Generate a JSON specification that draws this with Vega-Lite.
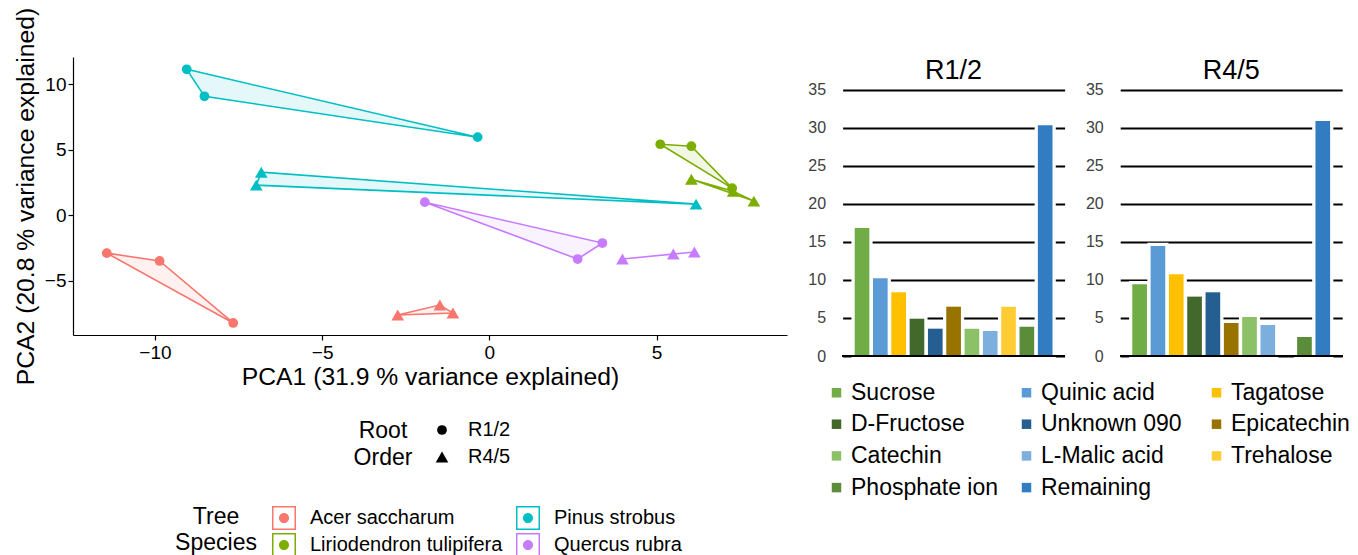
{
  "$schema": "https://vega.github.io/schema/vega-lite/v6.json",
  "padding": {"left": 13, "top": 7, "right": 0, "bottom": 0},
  "bounds": "flush",
  "spacing": 55.6,
  "config": {
    "view": {"stroke": null},
    "font": "Liberation Sans",
    "legend": {"labelLimit": 400, "titleLimit": 400}
  },
  "hconcat": [
    {
      "width": 714,
      "height": 278,
      "data": {"values": [
        {"species": "Acer saccharum", "order": "R1/2", "pc1": -11.44, "pc2": -2.90},
        {"species": "Acer saccharum", "order": "R1/2", "pc1": -9.86, "pc2": -3.50},
        {"species": "Acer saccharum", "order": "R1/2", "pc1": -7.66, "pc2": -8.23},
        {"species": "Acer saccharum", "order": "R4/5", "pc1": -2.74, "pc2": -7.62},
        {"species": "Acer saccharum", "order": "R4/5", "pc1": -1.48, "pc2": -6.86},
        {"species": "Acer saccharum", "order": "R4/5", "pc1": -1.09, "pc2": -7.47},
        {"species": "Liriodendron tulipifera", "order": "R1/2", "pc1": 5.11, "pc2": 5.41},
        {"species": "Liriodendron tulipifera", "order": "R1/2", "pc1": 6.04, "pc2": 5.26},
        {"species": "Liriodendron tulipifera", "order": "R1/2", "pc1": 7.26, "pc2": 2.06},
        {"species": "Liriodendron tulipifera", "order": "R4/5", "pc1": 6.04, "pc2": 2.74},
        {"species": "Liriodendron tulipifera", "order": "R4/5", "pc1": 7.29, "pc2": 1.83},
        {"species": "Liriodendron tulipifera", "order": "R4/5", "pc1": 7.91, "pc2": 1.07},
        {"species": "Pinus strobus", "order": "R1/2", "pc1": -9.05, "pc2": 11.13},
        {"species": "Pinus strobus", "order": "R1/2", "pc1": -8.52, "pc2": 9.07},
        {"species": "Pinus strobus", "order": "R1/2", "pc1": -0.35, "pc2": 5.95},
        {"species": "Pinus strobus", "order": "R4/5", "pc1": -6.82, "pc2": 3.28},
        {"species": "Pinus strobus", "order": "R4/5", "pc1": -6.97, "pc2": 2.29},
        {"species": "Pinus strobus", "order": "R4/5", "pc1": 6.18, "pc2": 0.84},
        {"species": "Quercus rubra", "order": "R1/2", "pc1": -1.93, "pc2": 0.99},
        {"species": "Quercus rubra", "order": "R1/2", "pc1": 3.38, "pc2": -2.13},
        {"species": "Quercus rubra", "order": "R1/2", "pc1": 2.64, "pc2": -3.35},
        {"species": "Quercus rubra", "order": "R4/5", "pc1": 3.98, "pc2": -3.35},
        {"species": "Quercus rubra", "order": "R4/5", "pc1": 5.50, "pc2": -2.97},
        {"species": "Quercus rubra", "order": "R4/5", "pc1": 6.13, "pc2": -2.82}
      ]},
      "layer": [
        {
          "mark": {"type": "line", "interpolate": "linear-closed", "strokeWidth": 1.6, "fillOpacity": 0.1},
          "encoding": {
            "x": {"field": "pc1", "type": "quantitative",
                  "scale": {"domain": [-12.45, 8.9], "nice": false, "zero": false},
                  "axis": {"values": [-10, -5, 0, 5], "title": "PCA1 (31.9 % variance explained)", "grid": false,
                           "domainColor": "black", "domainWidth": 1.2, "tickColor": "black", "tickWidth": 1.2, "tickSize": 5,
                           "labelFontSize": 19, "labelColor": "black", "labelPadding": 3, "labelFlush": false,
                           "titleFontSize": 24.7, "titleFontWeight": "normal", "titleColor": "black", "titlePadding": 2}},
            "y": {"field": "pc2", "type": "quantitative",
                  "scale": {"domain": [-9.15, 12.07], "nice": false, "zero": false},
                  "axis": {"values": [-5, 0, 5, 10], "title": "PCA2 (20.8 % variance explained)", "grid": false,
                           "domainColor": "black", "domainWidth": 1.2, "tickColor": "black", "tickWidth": 1.2, "tickSize": 5,
                           "labelFontSize": 19, "labelColor": "black", "labelPadding": 2, "labelFlush": false,
                           "titleFontSize": 24.7, "titleFontWeight": "normal", "titleColor": "black", "titlePadding": 6}},
            "detail": {"field": "order", "type": "nominal"},
            "stroke": {"field": "species", "type": "nominal",
                       "scale": {"domain": ["Acer saccharum", "Liriodendron tulipifera", "Pinus strobus", "Quercus rubra"],
                                 "range": ["#F8766D", "#7CAE00", "#00BFC4", "#C77CFF"]},
                       "legend": {"orient": "none", "legendX": 102, "legendY": 449,
                                "title": ["Tree", "Species"], "titleOrient": "left", "titleAlign": "center", "titleBaseline": "top", "titleAnchor": "start",
                                "titleFontSize": 23, "titleFontWeight": "normal", "titleColor": "black", "titleLineHeight": 26, "titlePadding": -26,
                                "columns": 2, "gridAlign": "all", "columnPadding": 13, "rowPadding": 3,
                                "symbolType": "M-1,-1H1V1H-1Z M-0.875,-0.875V0.875H0.875V-0.875Z M-0.42,0A0.42,0.42 0 1,0 0.42,0A0.42,0.42 0 1,0 -0.42,0Z",
                                "symbolSize": 576, "symbolStrokeWidth": 0, "symbolOpacity": 1, "symbolFillOpacity": 1,
                                "labelFontSize": 20, "labelColor": "black", "labelOffset": 14}},
            "fill": {"field": "species", "type": "nominal",
                     "scale": {"domain": ["Acer saccharum", "Liriodendron tulipifera", "Pinus strobus", "Quercus rubra"],
                               "range": ["#F8766D", "#7CAE00", "#00BFC4", "#C77CFF"]},
                     "legend": {"orient": "none", "legendX": 102, "legendY": 449,
                                "title": ["Tree", "Species"], "titleOrient": "left", "titleAlign": "center", "titleBaseline": "top", "titleAnchor": "start",
                                "titleFontSize": 23, "titleFontWeight": "normal", "titleColor": "black", "titleLineHeight": 26, "titlePadding": -26,
                                "columns": 2, "gridAlign": "all", "columnPadding": 13, "rowPadding": 3,
                                "symbolType": "M-1,-1H1V1H-1Z M-0.875,-0.875V0.875H0.875V-0.875Z M-0.42,0A0.42,0.42 0 1,0 0.42,0A0.42,0.42 0 1,0 -0.42,0Z",
                                "symbolSize": 576, "symbolStrokeWidth": 0, "symbolOpacity": 1, "symbolFillOpacity": 1,
                                "labelFontSize": 20, "labelColor": "black", "labelOffset": 14}}
          }
        },
        {
          "mark": {"type": "point", "filled": true, "opacity": 1, "color": "black", "strokeWidth": 0},
          "encoding": {
            "x": {"field": "pc1", "type": "quantitative"},
            "y": {"field": "pc2", "type": "quantitative"},
            "fill": {"field": "species", "type": "nominal",
                     "scale": {"domain": ["Acer saccharum", "Liriodendron tulipifera", "Pinus strobus", "Quercus rubra"],
                               "range": ["#F8766D", "#7CAE00", "#00BFC4", "#C77CFF"]},
                     "legend": {"orient": "none", "legendX": 102, "legendY": 449,
                                "title": ["Tree", "Species"], "titleOrient": "left", "titleAlign": "center", "titleBaseline": "top", "titleAnchor": "start",
                                "titleFontSize": 23, "titleFontWeight": "normal", "titleColor": "black", "titleLineHeight": 26, "titlePadding": -26,
                                "columns": 2, "gridAlign": "all", "columnPadding": 13, "rowPadding": 3,
                                "symbolType": "M-1,-1H1V1H-1Z M-0.875,-0.875V0.875H0.875V-0.875Z M-0.42,0A0.42,0.42 0 1,0 0.42,0A0.42,0.42 0 1,0 -0.42,0Z",
                                "symbolSize": 576, "symbolStrokeWidth": 0, "symbolOpacity": 1, "symbolFillOpacity": 1,
                                "labelFontSize": 20, "labelColor": "black", "labelOffset": 14}},
            "shape": {"field": "order", "type": "nominal",
                      "scale": {"domain": ["R1/2", "R4/5"], "range": ["circle", "triangle-up"]},
                      "legend": {"orient": "none", "legendX": 281, "legendY": 363,
                                 "title": ["Root", "Order"], "titleOrient": "left", "titleAlign": "center", "titleBaseline": "top", "titleAnchor": "start",
                                 "titleFontSize": 23, "titleFontWeight": "normal", "titleColor": "black", "titleLineHeight": 27, "titlePadding": -10,
                                 "symbolFillColor": "black", "symbolStrokeWidth": 0, "symbolOpacity": 1,
                                 "rowPadding": 7, "labelFontSize": 20, "labelColor": "black", "labelOffset": 16}},
            "size": {"field": "order", "type": "ordinal",
                     "scale": {"domain": ["R1/2", "R4/5"], "range": [95, 160]},
                     "legend": {"orient": "none", "legendX": 281, "legendY": 363,
                                 "title": ["Root", "Order"], "titleOrient": "left", "titleAlign": "center", "titleBaseline": "top", "titleAnchor": "start",
                                 "titleFontSize": 23, "titleFontWeight": "normal", "titleColor": "black", "titleLineHeight": 27, "titlePadding": -10,
                                 "symbolFillColor": "black", "symbolStrokeWidth": 0, "symbolOpacity": 1,
                                 "rowPadding": 7, "labelFontSize": 20, "labelColor": "black", "labelOffset": 16}}
          }
        }
      ]
    },
    {
      "width": 222,
      "height": 299,
      "data": {"values": [
        {"panel": "R1/2", "compound": "Sucrose", "value": 16.82},
        {"panel": "R1/2", "compound": "Quinic acid", "value": 10.2},
        {"panel": "R1/2", "compound": "Tagatose", "value": 8.37},
        {"panel": "R1/2", "compound": "D-Fructose", "value": 4.9},
        {"panel": "R1/2", "compound": "Unknown 090", "value": 3.59},
        {"panel": "R1/2", "compound": "Epicatechin", "value": 6.48},
        {"panel": "R1/2", "compound": "Catechin", "value": 3.59},
        {"panel": "R1/2", "compound": "L-Malic acid", "value": 3.29},
        {"panel": "R1/2", "compound": "Trehalose", "value": 6.48},
        {"panel": "R1/2", "compound": "Phosphate ion", "value": 3.85},
        {"panel": "R1/2", "compound": "Remaining", "value": 30.31}
      ]},
      "layer": [
        {
          "mark": {"type": "bar", "color": "white", "stroke": "white", "strokeWidth": 6.5},
          "encoding": {
            "x": {"field": "compound", "type": "nominal", "axis": null,
                  "scale": {"domain": ["Sucrose", "Quinic acid", "Tagatose", "D-Fructose", "Unknown 090", "Epicatechin", "Catechin", "L-Malic acid", "Trehalose", "Phosphate ion", "Remaining"], "paddingInner": 0.2, "paddingOuter": 0.66}},
            "y": {"field": "value", "type": "quantitative", "scale": {"domain": [0, 39.28], "nice": false},
                  "axis": {"values": [0, 5, 10, 15, 20, 25, 30, 35], "grid": true, "gridColor": "black", "gridWidth": 2, "domain": false, "ticks": false, "tickSize": 0,
                           "labelFontSize": 16, "labelColor": "#404040", "labelPadding": 17, "title": null}}
          }
        },
        {
          "mark": {"type": "bar"},
          "encoding": {
            "x": {"field": "compound", "type": "nominal", "axis": null},
            "y": {"field": "value", "type": "quantitative",
                  "axis": {"values": [0, 5, 10, 15, 20, 25, 30, 35], "grid": true, "gridColor": "black", "gridWidth": 2, "domain": false, "ticks": false, "tickSize": 0,
                           "labelFontSize": 16, "labelColor": "#404040", "labelPadding": 17, "title": null}},
            "color": {"field": "compound", "type": "nominal",
                      "scale": {"domain": ["Sucrose", "D-Fructose", "Catechin", "Phosphate ion", "Quinic acid", "Unknown 090", "L-Malic acid", "Remaining", "Tagatose", "Epicatechin", "Trehalose"],
                                "range": ["#70AD47", "#43682B", "#8CC168", "#5A8C39", "#5B9BD5", "#255E91", "#7CAFDD", "#327DC2", "#FFC000", "#997300", "#FFCD33"]},
                      "legend": {"orient": "none", "legendX": 752, "legendY": 324, "title": null, "columns": 3, "gridAlign": "all",
                                 "columnPadding": 16, "rowPadding": 7.7, "symbolType": "square", "symbolSize": 90, "symbolStrokeWidth": 0, "symbolOpacity": 1,
                                 "labelFontSize": 23, "labelColor": "black", "labelOffset": 3}}
          }
        },
        {
          "mark": {"type": "rule", "color": "black", "strokeWidth": 2},
          "encoding": {"y": {"datum": 0,
                  "axis": {"values": [0, 5, 10, 15, 20, 25, 30, 35], "grid": true, "gridColor": "black", "gridWidth": 2, "domain": false, "ticks": false, "tickSize": 0,
                           "labelFontSize": 16, "labelColor": "#404040", "labelPadding": 17, "title": null}}}
        },
        {
          "data": {"values": [{"panel": "R1/2"}]},
          "mark": {"type": "text", "fontSize": 27, "baseline": "alphabetic", "align": "center", "color": "black"},
          "encoding": {
            "text": {"field": "panel", "type": "nominal"},
            "x": {"datum": "Epicatechin", "type": "nominal", "axis": null},
            "y": {"datum": 36.36, "type": "quantitative",
                  "axis": {"values": [0, 5, 10, 15, 20, 25, 30, 35], "grid": true, "gridColor": "black", "gridWidth": 2, "domain": false, "ticks": false, "tickSize": 0,
                           "labelFontSize": 16, "labelColor": "#404040", "labelPadding": 17, "title": null}}
          }
        }
      ]
    },
    {
      "width": 222,
      "height": 299,
      "data": {"values": [
        {"panel": "R4/5", "compound": "Sucrose", "value": 9.42},
        {"panel": "R4/5", "compound": "Quinic acid", "value": 14.45},
        {"panel": "R4/5", "compound": "Tagatose", "value": 10.73},
        {"panel": "R4/5", "compound": "D-Fructose", "value": 7.8},
        {"panel": "R4/5", "compound": "Unknown 090", "value": 8.37},
        {"panel": "R4/5", "compound": "Epicatechin", "value": 4.34},
        {"panel": "R4/5", "compound": "Catechin", "value": 5.12},
        {"panel": "R4/5", "compound": "L-Malic acid", "value": 4.07},
        {"panel": "R4/5", "compound": "Phosphate ion", "value": 2.5},
        {"panel": "R4/5", "compound": "Remaining", "value": 30.88}
      ]},
      "layer": [
        {
          "mark": {"type": "bar", "color": "white", "stroke": "white", "strokeWidth": 6.5},
          "encoding": {
            "x": {"field": "compound", "type": "nominal", "axis": null,
                  "scale": {"domain": ["Sucrose", "Quinic acid", "Tagatose", "D-Fructose", "Unknown 090", "Epicatechin", "Catechin", "L-Malic acid", "Trehalose", "Phosphate ion", "Remaining"], "paddingInner": 0.2, "paddingOuter": 0.66}},
            "y": {"field": "value", "type": "quantitative", "scale": {"domain": [0, 39.28], "nice": false},
                  "axis": {"values": [0, 5, 10, 15, 20, 25, 30, 35], "grid": true, "gridColor": "black", "gridWidth": 2, "domain": false, "ticks": false, "tickSize": 0,
                           "labelFontSize": 16, "labelColor": "#404040", "labelPadding": 17, "title": null}}
          }
        },
        {
          "mark": {"type": "bar"},
          "encoding": {
            "x": {"field": "compound", "type": "nominal", "axis": null},
            "y": {"field": "value", "type": "quantitative",
                  "axis": {"values": [0, 5, 10, 15, 20, 25, 30, 35], "grid": true, "gridColor": "black", "gridWidth": 2, "domain": false, "ticks": false, "tickSize": 0,
                           "labelFontSize": 16, "labelColor": "#404040", "labelPadding": 17, "title": null}},
            "color": {"field": "compound", "type": "nominal",
                      "scale": {"domain": ["Sucrose", "D-Fructose", "Catechin", "Phosphate ion", "Quinic acid", "Unknown 090", "L-Malic acid", "Remaining", "Tagatose", "Epicatechin", "Trehalose"],
                                "range": ["#70AD47", "#43682B", "#8CC168", "#5A8C39", "#5B9BD5", "#255E91", "#7CAFDD", "#327DC2", "#FFC000", "#997300", "#FFCD33"]},
                      "legend": {"orient": "none", "legendX": 752, "legendY": 324, "title": null, "columns": 3, "gridAlign": "all",
                                 "columnPadding": 16, "rowPadding": 7.7, "symbolType": "square", "symbolSize": 90, "symbolStrokeWidth": 0, "symbolOpacity": 1,
                                 "labelFontSize": 23, "labelColor": "black", "labelOffset": 3}}
          }
        },
        {
          "mark": {"type": "rule", "color": "black", "strokeWidth": 2},
          "encoding": {"y": {"datum": 0,
                  "axis": {"values": [0, 5, 10, 15, 20, 25, 30, 35], "grid": true, "gridColor": "black", "gridWidth": 2, "domain": false, "ticks": false, "tickSize": 0,
                           "labelFontSize": 16, "labelColor": "#404040", "labelPadding": 17, "title": null}}}
        },
        {
          "data": {"values": [{"panel": "R4/5"}]},
          "mark": {"type": "text", "fontSize": 27, "baseline": "alphabetic", "align": "center", "color": "black"},
          "encoding": {
            "text": {"field": "panel", "type": "nominal"},
            "x": {"datum": "Epicatechin", "type": "nominal", "axis": null},
            "y": {"datum": 36.36, "type": "quantitative",
                  "axis": {"values": [0, 5, 10, 15, 20, 25, 30, 35], "grid": true, "gridColor": "black", "gridWidth": 2, "domain": false, "ticks": false, "tickSize": 0,
                           "labelFontSize": 16, "labelColor": "#404040", "labelPadding": 17, "title": null}}
          }
        }
      ]
    }
  ]
}
